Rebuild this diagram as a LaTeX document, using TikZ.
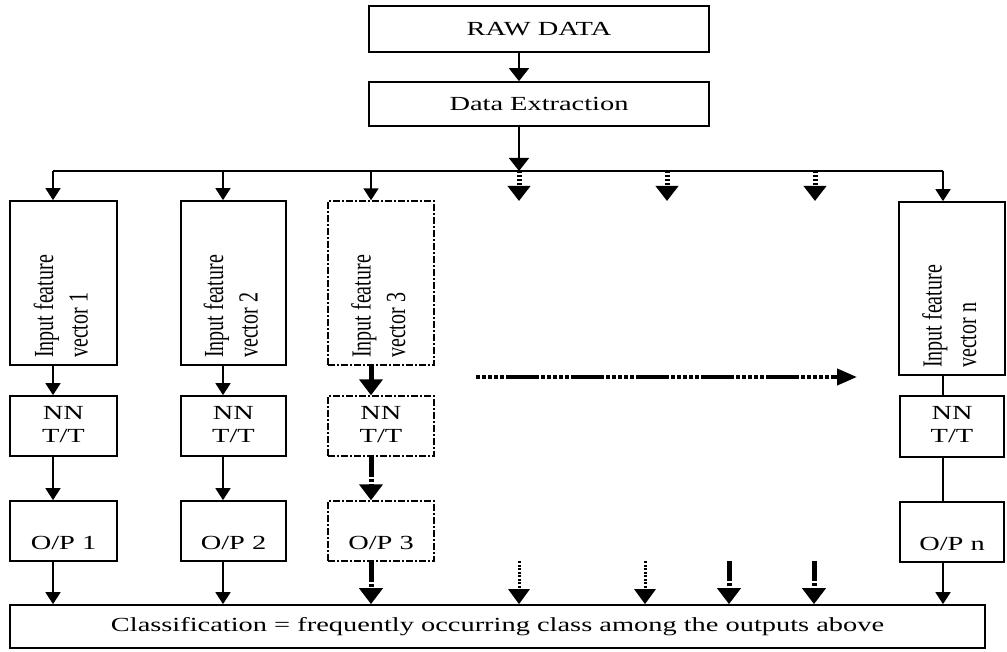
\documentclass[tikz,border=0pt]{standalone}
\usepackage{fontspec}
\setmainfont{Liberation Serif}
\usetikzlibrary{arrows.meta}
\newcommand\hs[1]{\scalebox{1.42}[1]{#1}}
\newcommand\vs[1]{\rotatebox{90}{\scalebox{1}[1.38]{\fontsize{20}{25}\selectfont\begin{tabular}{@{}l@{}}#1\end{tabular}}}}
\newcommand\lowtext[1]{\raisebox{-18pt}[0pt][0pt]{\hs{#1}}}
\begin{document}
\begin{tikzpicture}[x=1pt,y=-1pt,font=\fontsize{20}{23}\selectfont,
  box/.style={draw,line width=1.7pt,inner sep=0pt},
  dbox/.style={draw,line width=1.4pt,dash pattern=on 7pt off 2pt on 2pt off 2pt,inner sep=0pt},
  ln/.style={line width=1.7pt},
  arr/.style={line width=1.7pt,-{Triangle[width=15pt,length=12pt]}},
  toparr/.style={line width=1.7pt,-{Triangle[width=20pt,length=13pt]}},
  dotarr/.style={line width=5pt,dash pattern=on 2pt off 2pt,-{Triangle[width=22pt,length=15pt]}},
  fdotarr/.style={line width=3pt,dash pattern=on 2pt off 1.5pt,-{Triangle[width=21pt,length=15pt]}},
  ddarr/.style={line width=5pt,dash pattern=on 20pt off 2pt on 3pt off 2pt,-{Triangle[width=23pt,length=16pt]}},
  harr/.style={line width=4pt,dash pattern=on 4pt off 2pt on 4pt off 2pt on 4pt off 2pt on 4pt off 2pt on 4pt off 2pt on 33pt off 2pt,-{Triangle[width=16pt,length=20pt]}},
  lbl/.style={anchor=south,inner sep=0pt}]
\useasboundingbox (0,0) rectangle (1007,652);

% top boxes
\node[box,minimum width=340pt,minimum height=46pt] (raw) at (539,29) {\hs{RAW DATA}};
\node[box,minimum width=340pt,minimum height=44pt] (de) at (539,104) {\hs{Data Extraction}};

% bus coordinates
\coordinate (b1) at (53,171);
\coordinate (b2) at (223,171);
\coordinate (b3) at (371,171);
\coordinate (b4) at (519,171);
\coordinate (b5) at (667,171);
\coordinate (b6) at (815,171);
\coordinate (bn) at (943,171);
\coordinate (t4) at (519,201);
\coordinate (t5) at (667,201);
\coordinate (t6) at (815,201);

\draw[toparr] (b4 |- raw.south) -- (b4 |- de.north);
\draw[toparr] (b4 |- de.south) -- (b4);
\draw[ln] (b1) -- (bn);

% input feature vectors
\node[box,minimum width=107pt,minimum height=164pt] (ifv1) at (63.5,283) {};
\node[box,minimum width=105pt,minimum height=164pt] (ifv2) at (233.5,283) {};
\node[dbox,minimum width=106pt,minimum height=164pt] (ifv3) at (381,283) {};
\node[box,minimum width=106pt,minimum height=173pt] (ifvn) at (952,288.5) {};
\node[lbl] (ifv1t) at (63.5,358) {\vs{Input feature\\vector 1}};
\node[lbl] (ifv2t) at (233.5,358) {\vs{Input feature\\vector 2}};
\node[lbl] (ifv3t) at (381,358) {\vs{Input feature\\vector 3}};
\node[lbl] (ifvnt) at (952,368) {\vs{Input feature\\vector n}};

\draw[arr] (b1) -- (b1 |- ifv1.north);
\draw[arr] (b2) -- (b2 |- ifv2.north);
\draw[arr] (b3) -- (b3 |- ifv3.north);
\draw[arr] (bn) -- (bn |- ifvn.north);
\draw[dotarr] (b4) -- (t4);
\draw[dotarr] (b5) -- (t5);
\draw[dotarr] (b6) -- (t6);

% NN boxes
\node[box,minimum width=107pt,minimum height=60pt] (nn1) at (63.5,426) {\hs{\begin{tabular}{@{}c@{}}NN\\T/T\end{tabular}}};
\node[box,minimum width=105pt,minimum height=60pt] (nn2) at (233.5,426) {\hs{\begin{tabular}{@{}c@{}}NN\\T/T\end{tabular}}};
\node[dbox,minimum width=106pt,minimum height=60pt] (nn3) at (381,426) {\hs{\begin{tabular}{@{}c@{}}NN\\T/T\end{tabular}}};
\node[box,minimum width=104pt,minimum height=61pt] (nnn) at (952,426.5) {\hs{\begin{tabular}{@{}c@{}}NN\\T/T\end{tabular}}};

% O/P boxes
\node[box,minimum width=107pt,minimum height=60pt] (op1) at (63.5,531) {\lowtext{O/P 1}};
\node[box,minimum width=105pt,minimum height=60pt] (op2) at (233.5,531) {\lowtext{O/P 2}};
\node[dbox,minimum width=106pt,minimum height=60pt] (op3) at (381,531) {\lowtext{O/P 3}};
\node[box,minimum width=104pt,minimum height=60pt] (opn) at (952,532) {\lowtext{O/P n}};

% classification
\node[box,minimum width=975pt,minimum height=43pt] (cls) at (497.5,626.5) {\hs{Classification = frequently occurring class among the outputs above}};

% column connectors
\draw[arr] (b1 |- ifv1.south) -- (b1 |- nn1.north);
\draw[arr] (b2 |- ifv2.south) -- (b2 |- nn2.north);
\draw[ddarr] (b3 |- ifv3.south) -- (b3 |- nn3.north);
\draw[ln] (bn |- ifvn.south) -- (bn |- nnn.north);

\draw[arr] (b1 |- nn1.south) -- (b1 |- op1.north);
\draw[arr] (b2 |- nn2.south) -- (b2 |- op2.north);
\draw[ddarr] (b3 |- nn3.south) -- (b3 |- op3.north);
\draw[ln] (bn |- nnn.south) -- (bn |- opn.north);

\draw[arr] (b1 |- op1.south) -- (b1 |- cls.north);
\draw[arr] (b2 |- op2.south) -- (b2 |- cls.north);
\draw[ddarr] (b3 |- op3.south) -- (b3 |- cls.north);
\draw[arr] (bn |- opn.south) -- (bn |- cls.north);

% middle bottom arrows
\coordinate (m1) at (519,561);
\coordinate (m2) at (645,561);
\coordinate (m3) at (729,561);
\coordinate (m4) at (814,561);
\draw[fdotarr] (m1) -- (m1 |- cls.north);
\draw[fdotarr] (m2) -- (m2 |- cls.north);
\draw[ddarr] (m3) -- (m3 |- cls.north);
\draw[ddarr] (m4) -- (m4 |- cls.north);

% horizontal continuation arrow
\coordinate (h1) at (476,377);
\coordinate (h2) at (857,377);
\draw[harr] (h1) -- (h2);
\end{tikzpicture}
\end{document}
